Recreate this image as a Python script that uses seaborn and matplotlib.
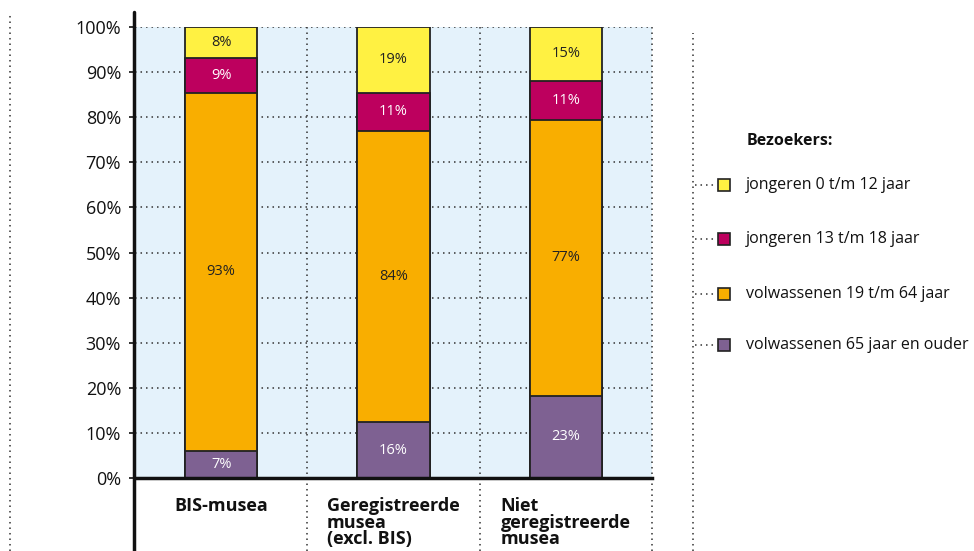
import matplotlib

matplotlib.use("Agg")
import matplotlib.pyplot as plt
import numpy as np
import pandas as pd
import seaborn as sns
from matplotlib.lines import Line2D
from matplotlib.patches import Rectangle

categories = ["BIS-musea", "Geregistreerde\nmusea\n(excl. BIS)", "Niet\ngeregistreerde\nmusea"]
# values as printed in the segments (bottom to top)
senior = [7, 16, 23]
adult = [93, 84, 77]
teen = [9, 11, 11]
child = [8, 19, 15]

groups = [
    "volwassenen 65 jaar en ouder",
    "volwassenen 19 t/m 64 jaar",
    "jongeren 13 t/m 18 jaar",
    "jongeren 0 t/m 12 jaar",
]
colors = ["#7e6192", "#f9ae00", "#bd005e", "#fff142"]
label_colors = ["white", "#222222", "white", "#222222"]

sns.set_theme(style="white")
plt.rcParams["font.family"] = ["Open Sans", "DejaVu Sans"]

raw = np.array([senior, adult, teen, child], dtype=float)
shares = raw / raw.sum(axis=0) * 100
tops = np.cumsum(shares, axis=0)

fig = plt.figure(figsize=(9.74, 5.51), dpi=100)
W, H = 974, 551
ax = fig.add_axes([135 / W, 73 / H, 517 / W, 451 / H])
ax.set_facecolor("#e4f2fb")

# stacked bars: draw cumulative tops from highest to lowest
for i in range(3, -1, -1):
    df = pd.DataFrame({"cat": categories, "val": tops[i]})
    sns.barplot(data=df, x="cat", y="val", color=colors[i], width=0.42,
                edgecolor="#222222", linewidth=1.3, saturation=1, ax=ax, zorder=3)

for i in range(4):
    for j in range(3):
        mid = tops[i, j] - shares[i, j] / 2
        ax.text(j, mid, f"{int(raw[i, j])}%", ha="center", va="center",
                fontsize=10.5, color=label_colors[i], zorder=4)

ax.set_xlim(-0.5, 2.5)
ax.set_ylim(0, 100)
ax.set_yticks(np.arange(0, 101, 10))
ax.set_yticklabels([f"{t}%" for t in range(0, 101, 10)], fontsize=13, color="#111111")
ax.set_xticks([])
ax.set_xlabel("")
ax.set_ylabel("")
ax.tick_params(axis="y", length=4, width=1.2, color="#111111", left=True, pad=6)

for s in ["top", "right", "left"]:
    ax.spines[s].set_visible(False)
ax.spines["bottom"].set_color("#111111")
ax.spines["bottom"].set_linewidth(2.5)
ax.spines["bottom"].set_zorder(5)

dot = (0, (1, 2.6))
for t in range(10, 101, 10):
    ax.axhline(t, color="#333333", linestyle=dot, linewidth=1.1, zorder=1)
for xb in [0.5, 1.5, 2.5]:
    ax.axvline(xb, ymin=-73 / 451, ymax=1, color="#333333", linestyle=dot,
               linewidth=1.1, zorder=1, clip_on=False)

for j, cat in enumerate(categories):
    ax.text(j, -19 / 451, cat, transform=ax.get_xaxis_transform(), ha="center",
            va="top", multialignment="left", fontsize=13, fontweight="bold",
            color="#111111", linespacing=0.9)

# y-axis line running to the bottom edge
fig.add_artist(Line2D([134 / W, 134 / W], [0, 1 - 12 / H], color="#111111", linewidth=2.5))
# outer dotted guides
fig.add_artist(Line2D([10 / W, 10 / W], [0, 1 - 15 / H], color="#333333", linestyle=dot, linewidth=1.1))
fig.add_artist(Line2D([693 / W, 693 / W], [0, 1 - 33 / H], color="#333333", linestyle=dot, linewidth=1.1))

# legend
fig.text(747 / W, 1 - 141 / H, "Bezoekers:", ha="left", va="center", fontsize=11.5,
         fontweight="bold", color="#111111")
legend_y = [185, 239, 294, 345]
for k, yy in enumerate(legend_y):
    i = 3 - k
    yf = 1 - yy / H
    fig.add_artist(Line2D([695 / W, 714 / W], [yf, yf], color="#333333", linestyle=dot, linewidth=1.1))
    fig.add_artist(Rectangle((718 / W, yf - 6 / H), 12 / W, 12 / H, facecolor=colors[i],
                             edgecolor="#222222", linewidth=1.2, transform=fig.transFigure))
    fig.text(746 / W, yf, groups[i], ha="left", va="center", fontsize=11.5, color="#111111")

fig.savefig("out.png", dpi=100)
